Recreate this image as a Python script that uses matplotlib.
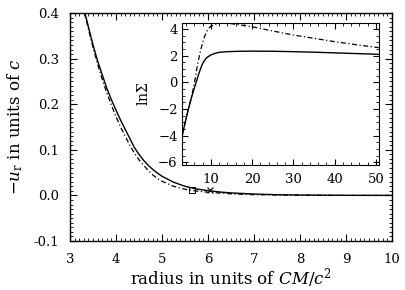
import numpy as np
import matplotlib
matplotlib.use('Agg')
import matplotlib.pyplot as plt
from matplotlib.ticker import MultipleLocator

plt.rcParams['font.family'] = 'DejaVu Serif'
plt.rcParams['mathtext.fontset'] = 'dejavuserif'

# main panel: radial velocity -u_r vs radius
r_solid = [3.2, 3.3, 3.4, 3.5, 3.6, 3.7, 3.8, 3.9, 4.0, 4.1, 4.2, 4.3, 4.4, 4.5, 4.6, 4.7,
           4.8, 4.9, 5.0, 5.25, 5.5, 5.75, 6.0, 6.25, 6.5, 7.0, 7.5, 8.0, 9.0, 10.0]
ur_solid = [0.46, 0.41, 0.37, 0.33, 0.295, 0.265, 0.235, 0.21, 0.187, 0.165, 0.145, 0.125,
            0.105, 0.09, 0.077, 0.066, 0.057, 0.049, 0.042, 0.029, 0.020, 0.014, 0.0105,
            0.0075, 0.0055, 0.003, 0.0015, 0.0008, 0.0002, 0.0]
r_dash = [3.2, 3.3, 3.4, 3.5, 3.6, 3.7, 3.8, 3.9, 4.0, 4.1, 4.2, 4.3, 4.4, 4.5, 4.6, 4.7,
          4.8, 4.9, 5.0, 5.25, 5.5, 5.65, 5.75, 6.0, 6.5, 7.0, 8.0, 9.0, 10.0]
ur_dash = [0.46, 0.41, 0.365, 0.325, 0.288, 0.255, 0.225, 0.198, 0.173, 0.15, 0.13, 0.11,
           0.093, 0.078, 0.066, 0.055, 0.045, 0.037, 0.031, 0.02, 0.0135, 0.011, 0.0095,
           0.007, 0.0035, 0.0015, 0.0003, 0.0, 0.0]
sq_pt = (5.65, 0.011)
x_pt = (6.04, 0.011)

# inset: ln Sigma vs radius
r_in_s = [3, 3.5, 4, 4.5, 5, 5.5, 6, 6.5, 7, 7.5, 8, 8.5, 9, 10, 11, 12, 14, 17, 20, 25,
          30, 35, 40, 45, 50.7]
lns_solid = [-4.1, -3.4, -2.75, -2.1, -1.5, -0.95, -0.45, 0.05, 0.55, 1.0, 1.4, 1.65, 1.85,
             2.05, 2.17, 2.25, 2.3, 2.33, 2.34, 2.33, 2.3, 2.26, 2.21, 2.16, 2.1]
r_in_d = [3, 3.5, 4, 4.5, 5, 5.5, 6, 6.5, 7, 7.5, 8, 8.5, 9, 9.5, 10, 11, 12, 13, 15, 20,
          25, 30, 35, 40, 45, 50.7]
lns_dash = [-4.1, -3.4, -2.75, -2.1, -1.5, -0.85, -0.1, 0.8, 1.65, 2.35, 2.95, 3.45, 3.8,
            4.05, 4.2, 4.35, 4.42, 4.43, 4.4, 4.17, 3.85, 3.55, 3.3, 3.05, 2.83, 2.6]

dashdot = (0, (4, 2, 1, 2))

fig = plt.figure(figsize=(4.06, 2.90), dpi=100)
ax = fig.add_axes([0.1724, 0.169, 0.793, 0.786])
ax.plot(r_solid, ur_solid, color='black', lw=1.0)
ax.plot(r_dash, ur_dash, color='black', lw=0.9, linestyle=dashdot)
ax.plot(*sq_pt, marker='s', ms=4.5, mfc='none', mec='black', mew=0.7)
ax.plot(*x_pt, marker='x', ms=4.5, color='black', mew=0.8)
ax.set_xlim(3, 10)
ax.set_ylim(-0.1, 0.4)
ax.xaxis.set_major_locator(MultipleLocator(1))
ax.xaxis.set_minor_locator(MultipleLocator(0.1))
ax.yaxis.set_major_locator(MultipleLocator(0.1))
ax.yaxis.set_minor_locator(MultipleLocator(0.01))
ax.yaxis.set_major_formatter(plt.FuncFormatter(lambda v, p: '%.1f' % v if abs(v) > 1e-9 else '0.0'))
ax.tick_params(which='both', direction='in', top=True, right=True, labelsize=9.5)
ax.tick_params(which='major', length=5)
ax.tick_params(which='minor', length=2.5)
ax.tick_params(axis='x', which='major', pad=9)
ax.tick_params(axis='y', which='major', pad=8)
ax.set_xlabel('radius in units of $CM/c^2$', fontsize=12, labelpad=0)
ax.set_ylabel('$-u_{\\rm r}$ in units of $c$', fontsize=12, labelpad=6)
for s in ax.spines.values():
    s.set_linewidth(1.0)

ins = fig.add_axes([0.448, 0.431, 0.485, 0.4897])
ins.plot(r_in_s, lns_solid, color='black', lw=1.0)
ins.plot(r_in_d, lns_dash, color='black', lw=0.9, linestyle=dashdot)
ins.set_xlim(3, 50.7)
ins.set_ylim(-6.2, 4.45)
ins.xaxis.set_major_locator(MultipleLocator(10))
ins.xaxis.set_minor_locator(MultipleLocator(2))
ins.yaxis.set_major_locator(MultipleLocator(2))
ins.yaxis.set_minor_locator(MultipleLocator(0.5))
ins.yaxis.set_major_formatter(plt.FuncFormatter(lambda v, p: ('%d' % v).replace('-', '\u2212')))
ins.tick_params(which='both', direction='in', top=True, right=True, labelsize=9.5)
ins.tick_params(which='major', length=4)
ins.tick_params(which='minor', length=2)
ins.tick_params(axis='x', which='major', pad=6)
ins.tick_params(axis='y', which='major', pad=3)
ins.set_ylabel('ln$\\Sigma$', fontsize=10, labelpad=5)

fig.savefig('out.png', dpi=100)
